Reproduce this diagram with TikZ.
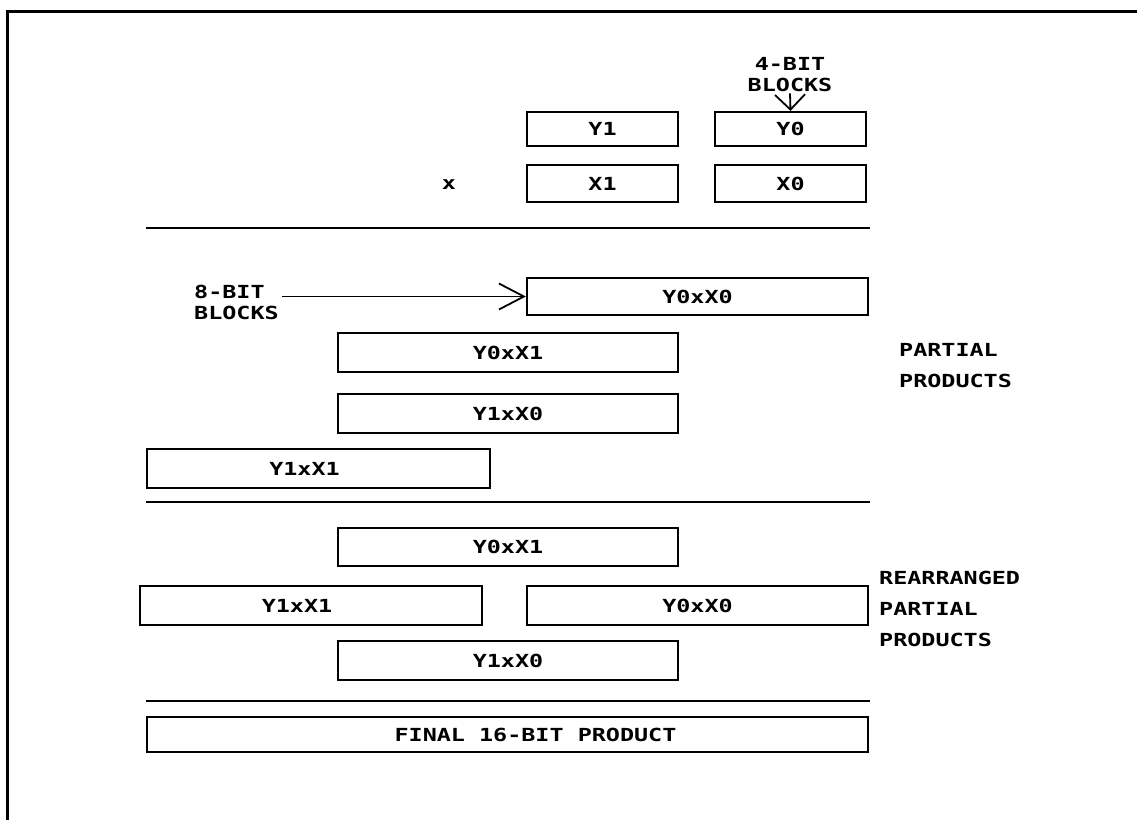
\documentclass[tikz,border=0pt]{standalone}
\usepackage{fontspec}
\newfontfamily\plotfont[FakeStretch=1.3]{DejaVu Sans Mono}
\usetikzlibrary{arrows.meta}
\begin{document}
\begin{tikzpicture}[x=1pt,y=-1pt,
  txt/.style={font=\plotfont\bfseries\fontsize{18}{21}\selectfont, inner sep=1pt},
  box/.style={draw, line width=2.2pt, inner sep=0pt, font=\plotfont\bfseries\fontsize{18}{21}\selectfont},
  sep/.style={line width=2.4pt},
  frame/.style={line width=3pt},
  conn/.style={line width=1.8pt}]
\useasboundingbox (0,0) rectangle (1137,820);
% frame
\coordinate (fbl) at (7,820);
\coordinate (ftl) at (7,11);
\coordinate (ftr) at (1137,11);
\draw[frame] (fbl) -- (ftl) -- (ftr);
% operands
\node[box, minimum width=151pt, minimum height=34pt] (y1) at (602.5,129) {Y1};
\node[box, minimum width=151pt, minimum height=34pt] (y0) at (790.5,129) {Y0};
\node[box, minimum width=151pt, minimum height=37pt] (x1) at (602.5,183.5) {X1};
\node[box, minimum width=151pt, minimum height=37pt] (x0) at (790.5,183.5) {X0};
\node[txt] (times) at (449,185) {x};
\node[txt, align=center] (b4) at (790,75) {4-BIT\\BLOCKS};
\draw[conn, -{Straight Barb[length=15pt,width=30pt,line width=1.8pt]}] (b4.south) -- (y0.north);
% separator 1
\coordinate (s1a) at (146,228); \coordinate (s1b) at (870,228);
\draw[sep] (s1a) -- (s1b);
% partial products
\node[box, minimum width=341pt, minimum height=37pt] (p00) at (697.5,296.5) {Y0xX0};
\node[box, minimum width=340pt, minimum height=39pt] (p01) at (508,352.5) {Y0xX1};
\node[box, minimum width=340pt, minimum height=39pt] (p10) at (508,413.5) {Y1xX0};
\node[box, minimum width=343pt, minimum height=39pt] (p11) at (318.5,468.5) {\hspace*{-28pt}Y1xX1};
\node[txt, align=left, anchor=west] (b8) at (193,302) {8-BIT\\BLOCKS};
\draw[conn, -{Straight Barb[length=25pt,width=26pt,line width=1.8pt]}] (b8.east |- p00.west) ++(2,0) -- (p00.west);
\node[txt, align=left, anchor=west, font=\plotfont\bfseries\fontsize{18}{31}\selectfont] (pp) at (898,366) {PARTIAL\\PRODUCTS};
% separator 2
\coordinate (s2a) at (146,502); \coordinate (s2b) at (870,502);
\draw[sep] (s2a) -- (s2b);
% rearranged
\node[box, minimum width=340pt, minimum height=38pt] (r01) at (508,547) {Y0xX1};
\node[box, minimum width=342pt, minimum height=39pt] (r11) at (311,605.5) {\hspace*{-28pt}Y1xX1};
\node[box, minimum width=341pt, minimum height=39pt] (r00) at (697.5,605.5) {Y0xX0};
\node[box, minimum width=340pt, minimum height=39pt] (r10) at (508,660.5) {Y1xX0};
\node[txt, align=left, anchor=west, font=\plotfont\bfseries\fontsize{18}{31}\selectfont] (rpp) at (878,609) {REARRANGED\\PARTIAL\\PRODUCTS};
% separator 3
\coordinate (s3a) at (146,701); \coordinate (s3b) at (870,701);
\draw[sep] (s3a) -- (s3b);
\node[box, minimum width=721pt, minimum height=35pt] (fin) at (507.5,734.5) {\hspace*{56pt}FINAL 16-BIT PRODUCT};
\end{tikzpicture}
\end{document}
